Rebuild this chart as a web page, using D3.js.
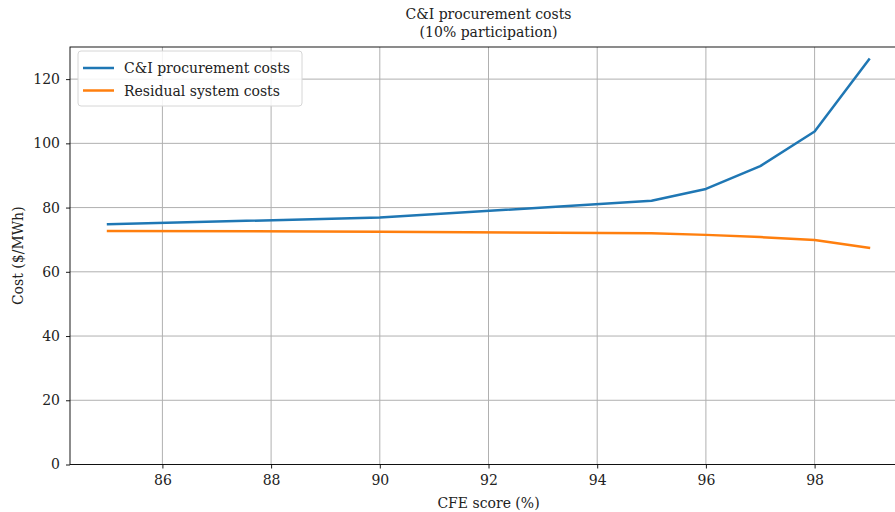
<!DOCTYPE html>
<html>
<head>
<meta charset="utf-8">
<script src="https://cdn.jsdelivr.net/npm/d3@7/dist/d3.min.js"></script>
<style>
  html, body { margin: 0; padding: 0; background: #fff; }
  svg { display: block; font-family: "DejaVu Serif", "Liberation Serif", serif; }
</style>
</head>
<body>
<svg id="chart" width="895" height="512"></svg>
<script>
// CFE score scenarios (%)
const cfeScores = [85, 90, 95, 96, 97, 98, 99];
// C&I procurement costs ($/MWh)
const ciCosts = [74.8, 76.9, 82.1, 85.8, 92.9, 103.7, 126.1];
// Residual system costs ($/MWh)
const residualCosts = [72.7, 72.5, 72.0, 71.5, 70.8, 69.9, 67.5];

const xTicks = [86, 88, 90, 92, 94, 96, 98];
const yTicks = [0, 20, 40, 60, 80, 100, 120];

const seriesNames = ["C&I procurement costs", "Residual system costs"];
const seriesColors = ["#1f77b4", "#ff7f0e"];

const titleLines = ["C&I procurement costs", "(10% participation)"];
const xLabel = "CFE score (%)";
const yLabel = "Cost ($/MWh)";

const svg = d3.select("#chart");
const margin = { left: 70, top: 47, right: 907, bottom: 464.5 };

const x = d3.scaleLinear().domain([84.3, 99.7]).range([margin.left, margin.right]);
const y = d3.scaleLinear().domain([0, 130]).range([margin.bottom, margin.top]);

const gridColor = "#b0b0b0";
const fontSize = 14;

// grid
const grid = svg.append("g");
grid.selectAll("line.vx").data(xTicks).join("line")
  .attr("x1", d => x(d)).attr("x2", d => x(d))
  .attr("y1", margin.top).attr("y2", margin.bottom)
  .attr("stroke", gridColor).attr("stroke-width", 1);
grid.selectAll("line.hy").data(yTicks).join("line")
  .attr("x1", margin.left).attr("x2", margin.right)
  .attr("y1", d => y(d)).attr("y2", d => y(d))
  .attr("stroke", gridColor).attr("stroke-width", 1);

// series lines
const series = [ciCosts, residualCosts];
const line = d3.line().x(d => x(d[0])).y(d => y(d[1]));
series.forEach((vals, i) => {
  svg.append("path")
    .datum(cfeScores.map((c, j) => [c, vals[j]]))
    .attr("d", line)
    .attr("fill", "none")
    .attr("stroke", seriesColors[i])
    .attr("stroke-width", 2.5)
    .attr("stroke-linejoin", "round")
    .attr("stroke-linecap", "square");
});

// axes
const xAxis = d3.axisBottom(x).tickValues(xTicks).tickSize(4).tickPadding(7).tickSizeOuter(0);
const yAxis = d3.axisLeft(y).tickValues(yTicks).tickSize(4).tickPadding(6).tickSizeOuter(0);

const gx = svg.append("g").attr("transform", `translate(0,${margin.bottom})`).call(xAxis);
const gy = svg.append("g").attr("transform", `translate(${margin.left},0)`).call(yAxis);
[gx, gy].forEach(g => {
  g.select(".domain").remove();
  g.selectAll("line").attr("stroke", "#000").attr("stroke-width", 0.9);
  g.selectAll("text").attr("fill", "#222").style("font-size", fontSize + "px")
    .style("font-family", "'DejaVu Serif', serif");
});

// spines
svg.append("rect")
  .attr("x", margin.left).attr("y", margin.top)
  .attr("width", margin.right - margin.left).attr("height", margin.bottom - margin.top)
  .attr("fill", "none").attr("stroke", "#000").attr("stroke-width", 0.9);

// title
const cx = (margin.left + margin.right) / 2;
svg.append("text").attr("x", cx).attr("y", 19).attr("text-anchor", "middle")
  .style("font-size", fontSize + "px").attr("fill", "#222").text(titleLines[0]);
svg.append("text").attr("x", cx).attr("y", 37).attr("text-anchor", "middle")
  .style("font-size", fontSize + "px").attr("fill", "#222").text(titleLines[1]);

// axis labels
svg.append("text").attr("x", cx).attr("y", 508).attr("text-anchor", "middle")
  .style("font-size", fontSize + "px").attr("fill", "#222").text(xLabel);
svg.append("text")
  .attr("transform", `translate(23,${(margin.top + margin.bottom) / 2}) rotate(-90)`)
  .attr("text-anchor", "middle").attr("fill", "#222")
  .style("font-size", fontSize + "px").text(yLabel);

// legend
const lg = svg.append("g").attr("transform", "translate(78,51)");
lg.append("rect").attr("x", 0).attr("y", 0).attr("width", 224).attr("height", 55)
  .attr("rx", 3).attr("fill", "#fff").attr("fill-opacity", 0.85)
  .attr("stroke", "#d6d6d6").attr("stroke-width", 1);
seriesNames.forEach((name, i) => {
  const yy = 17 + i * 22.5;
  lg.append("line").attr("x1", 5).attr("x2", 36).attr("y1", yy).attr("y2", yy)
    .attr("stroke", seriesColors[i]).attr("stroke-width", 2.5);
  lg.append("text").attr("x", 46).attr("y", yy + 5).attr("fill", "#222")
    .style("font-size", fontSize + "px").text(name);
});
</script>
</body>
</html>
